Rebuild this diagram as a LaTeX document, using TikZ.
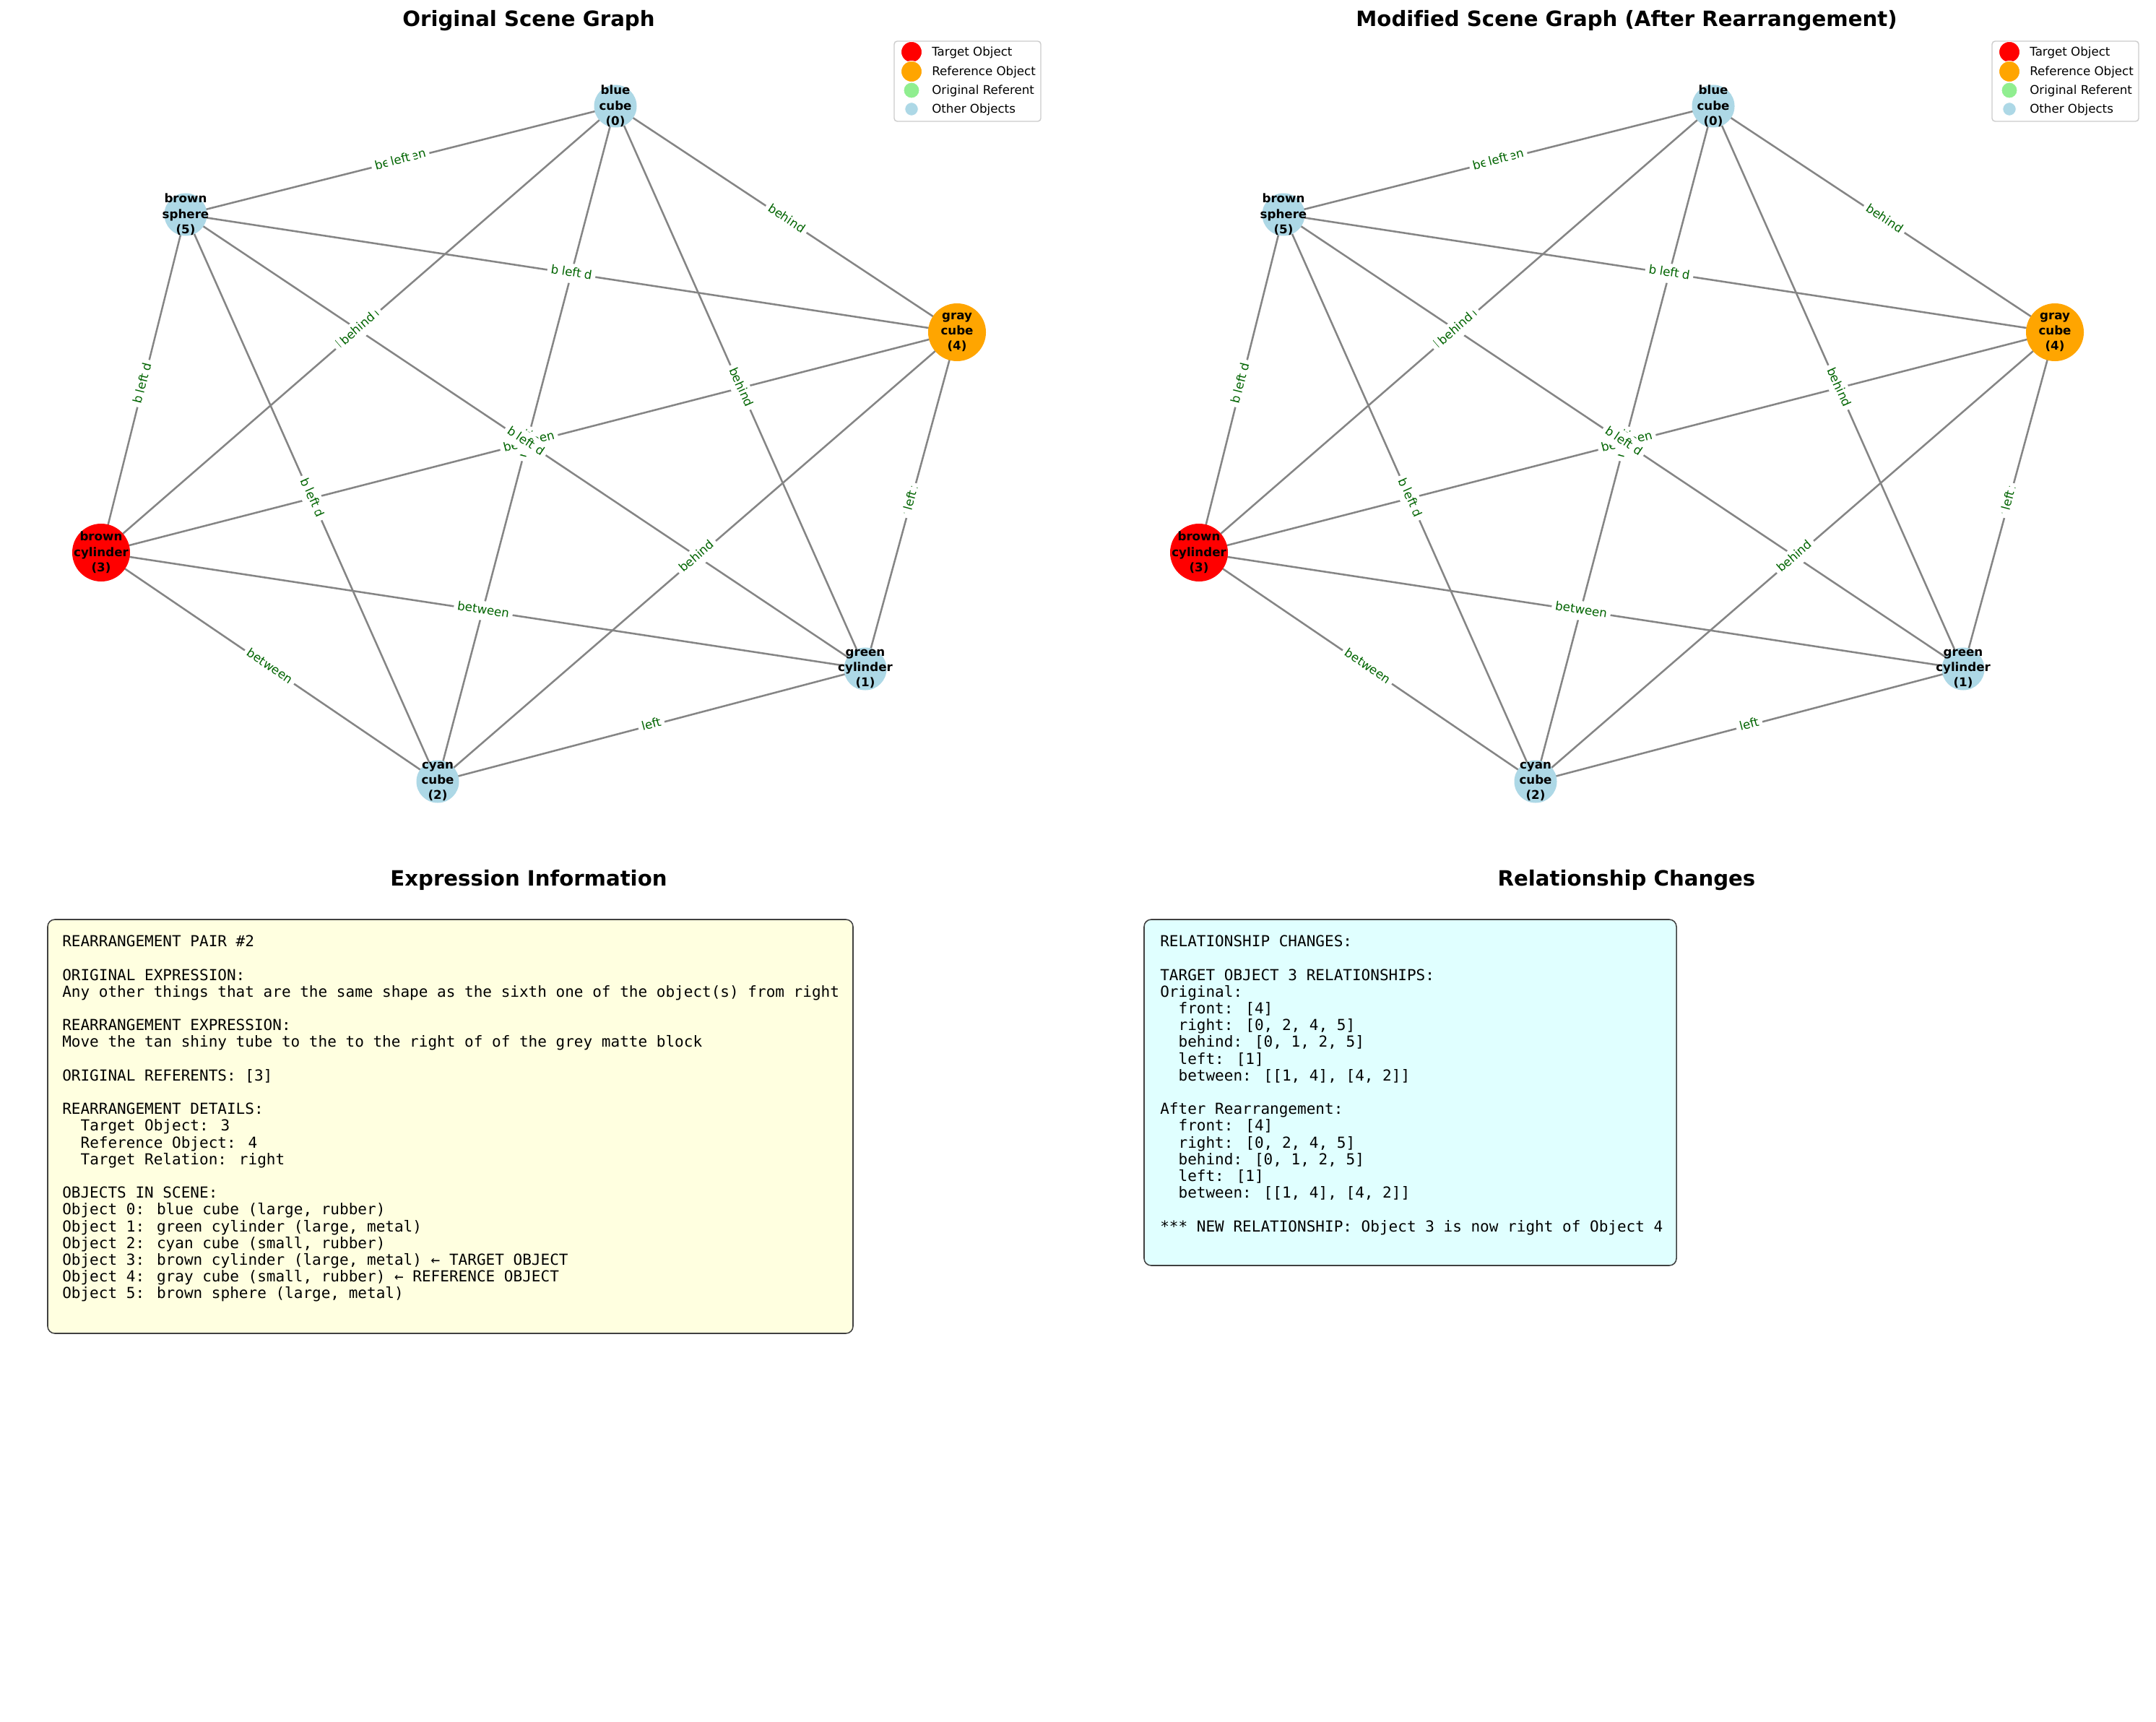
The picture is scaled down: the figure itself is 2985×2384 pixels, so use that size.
\documentclass[tikz,border=0pt]{standalone}
\usepackage{fontspec}
\setmainfont{DejaVu Sans}[Ligatures=NoCommon]
\newfontfamily\monofont{DejaVu Sans Mono}

\definecolor{edgegray}{HTML}{858585}
\definecolor{labgreen}{HTML}{006400}
\definecolor{ltblue}{HTML}{ADD8E6}
\definecolor{ltgreen}{HTML}{90EE90}
\definecolor{orng}{HTML}{FFA500}
\definecolor{ltyellow}{HTML}{FFFFE0}
\definecolor{ltcyan}{HTML}{E0FFFF}
\definecolor{legframe}{HTML}{CCCCCC}

\pgfdeclarelayer{edgelayer}
\pgfdeclarelayer{labellayer}
\pgfsetlayers{edgelayer,labellayer,main}

\tikzset{
  obj/.style={circle, inner sep=0pt, minimum size=1.475cm},
  bigobj/.style={circle, inner sep=0pt, minimum size=2cm},
  objlabel/.style={font=\bfseries\fontsize{11.86}{15.2}\selectfont, align=center,
    text=black, inner sep=0pt},
  edge/.style={draw=edgegray, line width=1.8pt},
  elab/.style={sloped, pos=0.5, font=\fontsize{11.86}{14}\selectfont, text=labgreen,
    fill=white, rounded corners=3.5pt, inner xsep=3.56pt, inner ysep=3.56pt,
    text height=9pt, text depth=2.85pt},
  legtext/.style={font=\fontsize{11.86}{14}\selectfont, anchor=base west, inner sep=0pt},
  legdot/.style={draw=white, line width=0.7pt},
  paneltitle/.style={font=\bfseries\fontsize{20.75}{24}\selectfont, anchor=base, inner sep=0pt},
  infobox/.style={draw=black!75, line width=1.1pt, rounded corners=7pt},
  infoline/.style={font=\monofont\fontsize{14.95}{16.5}\selectfont, anchor=base west, inner sep=0pt},
}

% One scene graph panel: #1 = name prefix, #2 = horizontal offset
\newcommand\scenepanel[2]{%
  \begin{scope}[xshift=#2*0.025cm]
    % objects
    \node[obj, fill=ltblue, label={[objlabel]center:{blue\\cube\\(0)}}] (#1n0) at (852,147) {};
    \node[obj, fill=ltblue, label={[objlabel]center:{green\\cylinder\\(1)}}] (#1n1) at (1198,926) {};
    \node[obj, fill=ltblue, label={[objlabel]center:{cyan\\cube\\(2)}}] (#1n2) at (606,1082) {};
    \node[bigobj, fill=red, label={[objlabel]center:{brown\\cylinder\\(3)}}] (#1n3) at (140,765) {};
    \node[bigobj, fill=orng, label={[objlabel]center:{gray\\cube\\(4)}}] (#1n4) at (1325,460) {};
    \node[obj, fill=ltblue, label={[objlabel]center:{brown\\sphere\\(5)}}] (#1n5) at (257,297) {};
    % relations
    \begin{pgfonlayer}{edgelayer}
      \foreach \a/\b in {0/5,0/4,0/3,0/2,0/1,5/4,5/3,5/2,5/1,4/3,4/2,4/1,3/2,3/1,2/1}
        \draw[edge] (#1n\a.center) -- (#1n\b.center);
    \end{pgfonlayer}
    \begin{pgfonlayer}{labellayer}
      \foreach \a/\b/\t in {0/2/right, 3/4/between, 5/1/behind, 5/1/left,
          0/5/between, 0/5/left, 0/4/behind, 0/3/between, 0/3/behind, 0/1/behind,
          5/4/behind, 5/4/left, 5/3/behind, 5/3/left, 5/2/behind, 5/2/left,
          4/2/behind, 4/1/front, 4/1/left, 3/2/between, 3/1/between, 2/1/left}
        \path (#1n\a.center) -- node[elab, name=#1r\a\b\t] {\t} (#1n\b.center);
    \end{pgfonlayer}
    % legend
    \draw[legframe, fill=white, line width=1pt, rounded corners=3pt]
      (1238,57) rectangle (1441,168);
    \fill[red, legdot] (1262,72) circle[radius=14.5];
    \fill[orng, legdot] (1262,99) circle[radius=14.5];
    \fill[ltgreen, legdot] (1262,125) circle[radius=11];
    \fill[ltblue, legdot] (1262,151) circle[radius=9.3];
    \node[legtext] (#1k1) at (1290,78) {Target Object};
    \node[legtext] (#1k2) at (1290,105) {Reference Object};
    \node[legtext] (#1k3) at (1290,131) {Original Referent};
    \node[legtext] (#1k4) at (1290,157) {Other Objects};
  \end{scope}%
}

\begin{document}
\begin{tikzpicture}[x=0.025cm, y=-0.025cm]
  \begin{pgfonlayer}{edgelayer}
    \fill[white] (0,0) rectangle (2985,2384);
  \end{pgfonlayer}
  \useasboundingbox (0,0) rectangle (2985,2384);

  % graph panels
  \node[paneltitle] (t1) at (732,37) {Original Scene Graph};
  \node[paneltitle] (t2) at (2252,37) {Modified Scene Graph (After Rearrangement)};
  \scenepanel{L}{0}
  \scenepanel{R}{1520}

  % text panels
  \node[paneltitle] (t3) at (732,1226) {Expression Information};
  \node[paneltitle] (t4) at (2252,1226) {Relationship Changes};

  \draw[infobox, fill=ltyellow] (66,1273) rectangle (1181,1846);
  \foreach \i/\t in {0/{REARRANGEMENT PAIR \#2},
      2/{ORIGINAL EXPRESSION:},
      3/{Any other things that are the same shape as the sixth one of the object(s) from right},
      5/{REARRANGEMENT EXPRESSION:},
      6/{Move the tan shiny tube to the to the right of of the grey matte block},
      8/{ORIGINAL REFERENTS: [3]},
      10/{REARRANGEMENT DETAILS:},
      11/{\phantom{xx}Target Object: 3},
      12/{\phantom{xx}Reference Object: 4},
      13/{\phantom{xx}Target Relation: right},
      15/{OBJECTS IN SCENE:},
      16/{Object 0: blue cube (large, rubber)},
      17/{Object 1: green cylinder (large, metal)},
      18/{Object 2: cyan cube (small, rubber)},
      19/{Object 3: brown cylinder (large, metal) ← TARGET OBJECT},
      20/{Object 4: gray cube (small, rubber) ← REFERENCE OBJECT},
      21/{Object 5: brown sphere (large, metal)}}
    \node[infoline, name=exp\i] at (86,1310.7+23.2*\i) {\t};

  \draw[infobox, fill=ltcyan] (1584,1273) rectangle (2321,1752);
  \foreach \i/\t in {0/{RELATIONSHIP CHANGES:},
      2/{TARGET OBJECT 3 RELATIONSHIPS:},
      3/{Original:},
      4/{\phantom{xx}front: [4]},
      5/{\phantom{xx}right: [0, 2, 4, 5]},
      6/{\phantom{xx}behind: [0, 1, 2, 5]},
      7/{\phantom{xx}left: [1]},
      8/{\phantom{xx}between: [[1, 4], [4, 2]]},
      10/{After Rearrangement:},
      11/{\phantom{xx}front: [4]},
      12/{\phantom{xx}right: [0, 2, 4, 5]},
      13/{\phantom{xx}behind: [0, 1, 2, 5]},
      14/{\phantom{xx}left: [1]},
      15/{\phantom{xx}between: [[1, 4], [4, 2]]},
      17/{*** NEW RELATIONSHIP: Object 3 is now right of Object 4}}
    \node[infoline, name=chg\i] at (1606,1310.7+23.2*\i) {\t};
\end{tikzpicture}
\end{document}
